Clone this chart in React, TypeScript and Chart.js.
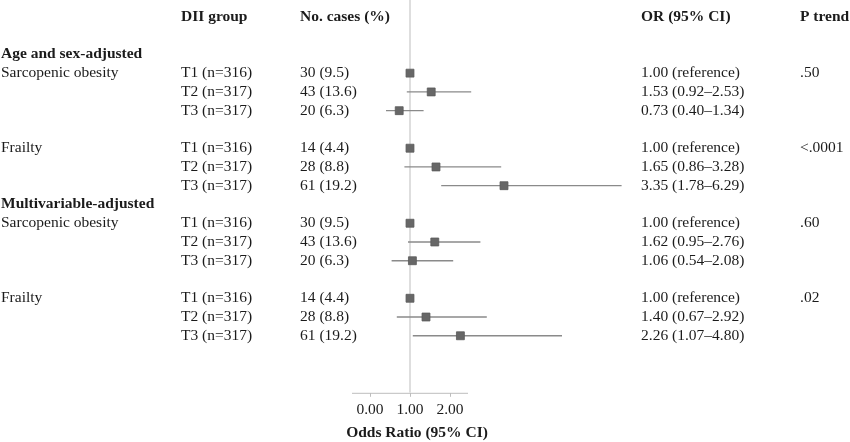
import React, { useEffect, useRef } from "react";
import { Chart, registerables } from "chart.js";

Chart.register(...registerables);

// ---- data ----
const sections = ["Age and sex-adjusted", "Multivariable-adjusted"];
const outcomes = ["Sarcopenic obesity", "Frailty"];
const groups = ["T1 (n=316)", "T2 (n=317)", "T3 (n=317)"];
const cases = [
  "30 (9.5)", "43 (13.6)", "20 (6.3)",
  "14 (4.4)", "28 (8.8)", "61 (19.2)",
  "30 (9.5)", "43 (13.6)", "20 (6.3)",
  "14 (4.4)", "28 (8.8)", "61 (19.2)",
];
const orValues = [1.0, 1.53, 0.73, 1.0, 1.65, 3.35, 1.0, 1.62, 1.06, 1.0, 1.4, 2.26];
const ciLower = [1.0, 0.92, 0.4, 1.0, 0.86, 1.78, 1.0, 0.95, 0.54, 1.0, 0.67, 1.07];
const ciUpper = [1.0, 2.53, 1.34, 1.0, 3.28, 6.29, 1.0, 2.76, 2.08, 1.0, 2.92, 4.8];
const pTrend = [".50", "<.0001", ".60", ".02"];
const headers = ["DII group", "No. cases (%)", "OR (95% CI)", "P trend"];
const xTicks = [0, 1, 2];
const axisTitle = "Odds Ratio (95% CI)";

// ---- row layout (derived) ----
type Row = { y: number; idx: number; label?: string; p?: string };
const dataRows: Row[] = [];
const sectionRows: { y: number; text: string }[] = [];
let r = 2;
sections.forEach((sec, si) => {
  sectionRows.push({ y: r, text: sec });
  r += 1;
  outcomes.forEach((out, oi) => {
    const block = si * outcomes.length + oi;
    groups.forEach((g, gi) => {
      dataRows.push({
        y: r,
        idx: block * groups.length + gi,
        label: gi === 0 ? out : undefined,
        p: gi === 0 ? pTrend[block] : undefined,
      });
      r += 1;
    });
    if (oi < outcomes.length - 1) r += 1;
  });
});

const FONT = "'Liberation Serif', 'Times New Roman', serif";
const TEXT = "#1b1b1b";
const Y_MIN = -0.9;
const Y_MAX = 20.04;
const AXIS_SPAN = [-0.45, 2.45];
const COLS = { label: 1, group: 181, cases: 300, or: 641, p: 800 };

const textPlugin = {
  id: "forestText",
  beforeDatasetsDraw(chart: any) {
    const { ctx, chartArea } = chart;
    const xs = chart.scales.x;
    ctx.save();
    ctx.strokeStyle = "#bdbdbd";
    ctx.lineWidth = 1;
    ctx.beginPath();
    ctx.moveTo(xs.getPixelForValue(AXIS_SPAN[0]), chartArea.bottom + 0.5);
    ctx.lineTo(xs.getPixelForValue(AXIS_SPAN[1]), chartArea.bottom + 0.5);
    ctx.stroke();
    ctx.restore();
  },
  afterDraw(chart: any) {
    const { ctx } = chart;
    const ys = chart.scales.y;
    ctx.save();
    ctx.fillStyle = TEXT;
    ctx.textBaseline = "middle";
    ctx.textAlign = "left";
    const bold = `bold 15.5px ${FONT}`;
    const reg = `15.5px ${FONT}`;
    ctx.font = bold;
    const hy = ys.getPixelForValue(0);
    ctx.fillText(headers[0], COLS.group, hy);
    ctx.fillText(headers[1], COLS.cases, hy);
    ctx.fillText(headers[2], COLS.or, hy);
    ctx.fillText(headers[3], COLS.p, hy);
    sectionRows.forEach((s) => ctx.fillText(s.text, COLS.label, ys.getPixelForValue(s.y)));
    ctx.font = reg;
    dataRows.forEach((row) => {
      const py = ys.getPixelForValue(row.y);
      const i = row.idx;
      if (row.label) ctx.fillText(row.label, COLS.label, py);
      ctx.fillText(groups[i % groups.length], COLS.group, py);
      ctx.fillText(cases[i], COLS.cases, py);
      const isRef = ciLower[i] === ciUpper[i];
      const orText = isRef
        ? `${orValues[i].toFixed(2)} (reference)`
        : `${orValues[i].toFixed(2)} (${ciLower[i].toFixed(2)}–${ciUpper[i].toFixed(2)})`;
      ctx.fillText(orText, COLS.or, py);
      if (row.p) ctx.fillText(row.p, COLS.p, py);
    });
    ctx.restore();
  },
};

export default function App() {
  const ref = useRef<HTMLCanvasElement | null>(null);
  useEffect(() => {
    if (!ref.current) return;
    const ciSets = dataRows.map((row) => ({
      type: "scatter" as const,
      data: [
        { x: ciLower[row.idx], y: row.y },
        { x: ciUpper[row.idx], y: row.y },
      ],
      showLine: true,
      borderColor: "#8a8a8a",
      borderWidth: 1.3,
      pointRadius: 0,
      order: 2,
    }));
    const chart = new Chart(ref.current, {
      type: "scatter",
      data: {
        datasets: [
          {
            data: [
              { x: 1, y: Y_MIN },
              { x: 1, y: Y_MAX },
            ],
            showLine: true,
            borderColor: "#d6d6d6",
            borderWidth: 1.6,
            pointRadius: 0,
            order: 3,
          },
          ...ciSets,
          {
            data: dataRows.map((row) => ({ x: orValues[row.idx], y: row.y })),
            pointStyle: "rect",
            pointRadius: 5.6,
            backgroundColor: "#676767",
            borderColor: "#5a5a5a",
            borderWidth: 0.8,
            order: 1,
          },
        ] as any,
      },
      options: {
        animation: false,
        responsive: false,
        events: [],
        layout: { autoPadding: false, padding: { left: 200, right: 216, top: 0, bottom: 0 } },
        plugins: { legend: { display: false }, tooltip: { enabled: false } },
        scales: {
          x: {
            type: "linear",
            min: -4.25,
            max: 6.6,
            afterBuildTicks: (axis: any) => {
              axis.ticks = xTicks.map((v) => ({ value: v }));
            },
            border: { display: false },
            grid: { drawOnChartArea: false, drawTicks: true, tickLength: 4, color: "#bdbdbd" },
            ticks: {
              autoSkip: false,
              maxRotation: 0,
              padding: 4,
              color: TEXT,
              font: { family: FONT, size: 15.5 },
              callback: (v: any) => Number(v).toFixed(2),
            },
            title: {
              display: true,
              text: axisTitle,
              color: TEXT,
              font: { family: FONT, size: 15.5, weight: "bold" },
              padding: { top: 0, bottom: 0 },
            },
          },
          y: {
            type: "linear",
            display: false,
            reverse: true,
            min: Y_MIN,
            max: Y_MAX,
          },
        },
      },
      plugins: [textPlugin],
    });
    return () => chart.destroy();
  }, []);
  return (
    <div style={{ position: "fixed", left: 0, top: 0, width: 850, height: 442, background: "#fff" }}>
      <canvas ref={ref} width={850} height={442} style={{ width: 850, height: 442, display: "block" }} />
    </div>
  );
}
